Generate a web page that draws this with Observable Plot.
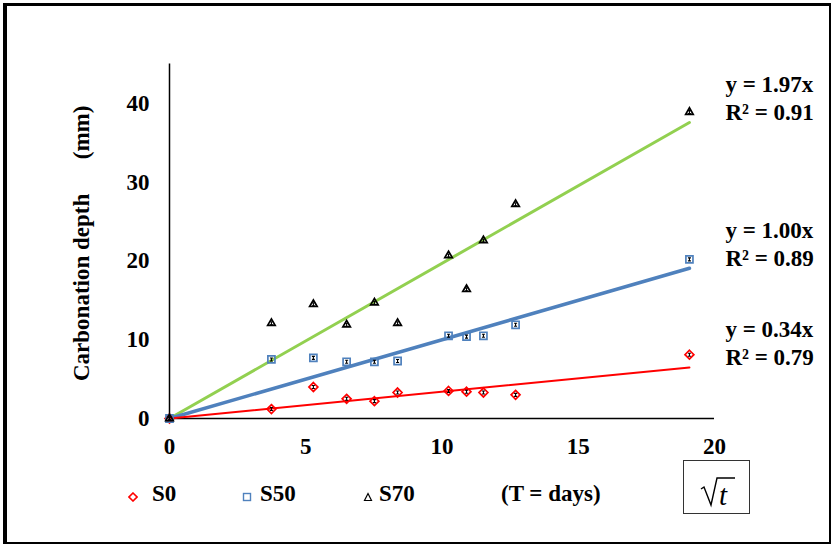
<!DOCTYPE html>
<html>
<head>
<meta charset="utf-8">
<script src="https://cdn.jsdelivr.net/npm/d3@7"></script>
<script src="https://cdn.jsdelivr.net/npm/@observablehq/plot@0.6"></script>
<style>
  html, body { margin: 0; padding: 0; background: #fff; }
  #wrap { position: relative; width: 831px; height: 544px; overflow: hidden;
          font-family: "Liberation Serif", "Times New Roman", serif; font-weight: bold; }
  #frame { position: absolute; left: 3px; top: 3px; width: 822px; height: 536px;
           border-left: 4px solid #000; border-top: 3px solid #000;
           border-right: 2px solid #000; border-bottom: 2px solid #000; pointer-events: none; }
  #chart { position: absolute; left: 0; top: 0; }
  #legend { position: absolute; left: 0; top: 460px; width: 831px; height: 84px; }
  .lg { position: absolute; font-size: 23px; line-height: 1; white-space: nowrap; }
  .sym { position: absolute; }
  #sqrtbox { position: absolute; left: 683px; top: 0px; width: 65px; height: 52px;
             border: 1px solid #333; font-weight: normal; }
</style>
</head>
<body>
<div id="wrap">
  <div id="chart"></div>
  <div id="legend"></div>
  <div id="frame"></div>
</div>
<script>
// ---- data ----
const sqrtDays = [0, 3.74, 5.28, 6.50, 7.52, 8.37, 10.24, 10.90, 11.52, 12.70, 19.08];
const s0Depth  = [0, 1.2, 4.0, 2.5, 2.2, 3.3, 3.5, 3.4, 3.3, 3.0, 8.1];
const s50Depth = [0, 7.5, 7.7, 7.2, 7.2, 7.3, 10.5, 10.4, 10.5, 11.9, 20.2];
const s70Depth = [0, 12.1, 14.5, 11.9, 14.7, 12.1, 20.7, 16.4, 22.6, 27.2, 38.9];
const seriesNames = ["S0", "S50", "S70"];
const slopes = [0.34, 1.00, 1.97];
const r2s = [0.79, 0.89, 0.91];
const xTicks = [0, 5, 10, 15, 20];
const yTicks = [0, 10, 20, 30, 40];
const yLabel = "Carbonation depth\u00a0\u00a0\u00a0\u00a0\u00a0\u00a0(mm)";

// ---- build ----
const colors = {S0: "#ff0000", S50: "#4f81bd", S70: "#92d050"};
const markColors = {S0: "#ff0000", S50: "#4f81bd", S70: "#000000"};
const symbols = {S0: "diamond2", S50: "square2", S70: "triangle2"};
const radii = {S0: 4, S50: 4.5, S70: 3.6};
const lineWidths = {S0: 2, S50: 3.5, S70: 3};
const depths = [s0Depth, s50Depth, s70Depth];
const xMax = d3.max(sqrtDays);

const points = [];
seriesNames.forEach((s, i) => depths[i].forEach((v, j) => points.push({series: s, x: sqrtDays[j], y: v})));
const series = seriesNames.map((s, i) => ({series: s, slope: slopes[i], r2: r2s[i], xEnd: xMax, yEnd: slopes[i] * xMax}));
const trend = series.flatMap(d => [{series: d.series, x: 0, y: 0}, {series: d.series, x: d.xEnd, y: d.yEnd}]);

const ibeam = {
  draw(ctx, size) {
    const r = Math.sqrt(size / Math.PI);
    ctx.moveTo(-r, -r); ctx.lineTo(r, -r);
    ctx.moveTo(0, -r); ctx.lineTo(0, r);
    ctx.moveTo(-r, r); ctx.lineTo(r, r);
  }
};

const marks = [
  Plot.axisX({ticks: xTicks, tickSize: 0, tickPadding: 19, label: null}),
  Plot.axisY({ticks: yTicks, tickSize: 0, tickPadding: 20, label: null}),
  Plot.ruleX([0], {stroke: "#000", strokeWidth: 1.5}),
  Plot.ruleY([0], {stroke: "#000", strokeWidth: 1.5}),
  Plot.text([yLabel], {text: d => d, frameAnchor: "left", textAnchor: "middle", rotate: -90, dx: -88, dy: 2, fontSize: 23, fontWeight: "bold"})
];
["S70", "S50", "S0"].forEach(s => {
  marks.push(Plot.line(trend.filter(d => d.series === s), {x: "x", y: "y", stroke: colors[s], strokeWidth: lineWidths[s]}));
});
seriesNames.forEach(s => {
  const pts = points.filter(d => d.series === s);
  marks.push(Plot.dot(pts, {x: "x", y: "y", symbol: symbols[s], r: radii[s], stroke: markColors[s], strokeWidth: 1.7, fill: "none"}));
  marks.push(Plot.dot(pts, {x: "x", y: "y", symbol: ibeam, r: 1.5, stroke: "#000", strokeWidth: 1.1, fill: "none"}));
});
marks.push(Plot.text(series, {x: "xEnd", y: "yEnd", text: d => `y = ${d.slope.toFixed(2)}x`, textAnchor: "start", dx: 36, dy: -38, fontSize: 23, fontWeight: "bold"}));
marks.push(Plot.text(series, {x: "xEnd", y: "yEnd", text: d => `R² = ${d.r2.toFixed(2)}`, textAnchor: "start", dx: 36, dy: -10, fontSize: 23, fontWeight: "bold"}));

const chart = Plot.plot({
  width: 831, height: 460,
  marginLeft: 169, marginRight: 117, marginTop: 63.6, marginBottom: 42,
  x: {domain: [0, 20]},
  y: {domain: [0, 45]},
  style: {fontFamily: "'Liberation Serif', 'Times New Roman', serif", fontWeight: "bold", fontSize: "23px", color: "#000", background: "transparent", overflow: "visible"},
  marks
});
document.getElementById("chart").appendChild(chart);

// ---- legend (HTML below the SVG) ----
const legend = document.getElementById("legend");
const legendItems = [
  {name: "S0", sym: `<svg width="10" height="10"><path d="M5,1 L9,5 L5,9 L1,5 Z" fill="none" stroke="#ff0000" stroke-width="1.6"/></svg>`, symX: 128, textX: 152},
  {name: "S50", sym: `<svg width="10" height="10"><rect x="1.5" y="1.5" width="7" height="7" fill="none" stroke="#4f81bd" stroke-width="1.4"/></svg>`, symX: 242, textX: 260},
  {name: "S70", sym: `<svg width="10" height="10"><path d="M5,1.5 L8.5,8.5 L1.5,8.5 Z" fill="none" stroke="#000" stroke-width="1.2"/></svg>`, symX: 363, textX: 379}
];
legendItems.forEach(it => {
  const s = document.createElement("div");
  s.className = "sym"; s.style.left = it.symX + "px"; s.style.top = "28px"; s.innerHTML = it.sym;
  legend.appendChild(s);
  const t = document.createElement("div");
  t.className = "lg"; t.style.left = it.textX + "px"; t.style.top = "22px"; t.textContent = it.name;
  legend.appendChild(t);
});
const tnote = document.createElement("div");
tnote.className = "lg"; tnote.style.left = "501px"; tnote.style.top = "22px"; tnote.textContent = "(T = days)";
legend.appendChild(tnote);
const box = document.createElement("div");
box.id = "sqrtbox";
box.innerHTML = `<svg width="65" height="52" style="position:absolute;left:0;top:0">
  <path d="M17,28 L20,26 L27,44 L33,17 L51,17" fill="none" stroke="#000" stroke-width="1.4"/>
  <text x="35" y="44" font-family="'Liberation Serif', serif" font-style="italic" font-weight="normal" font-size="29" fill="#000">t</text>
</svg>`;
legend.appendChild(box);
</script>
</body>
</html>
